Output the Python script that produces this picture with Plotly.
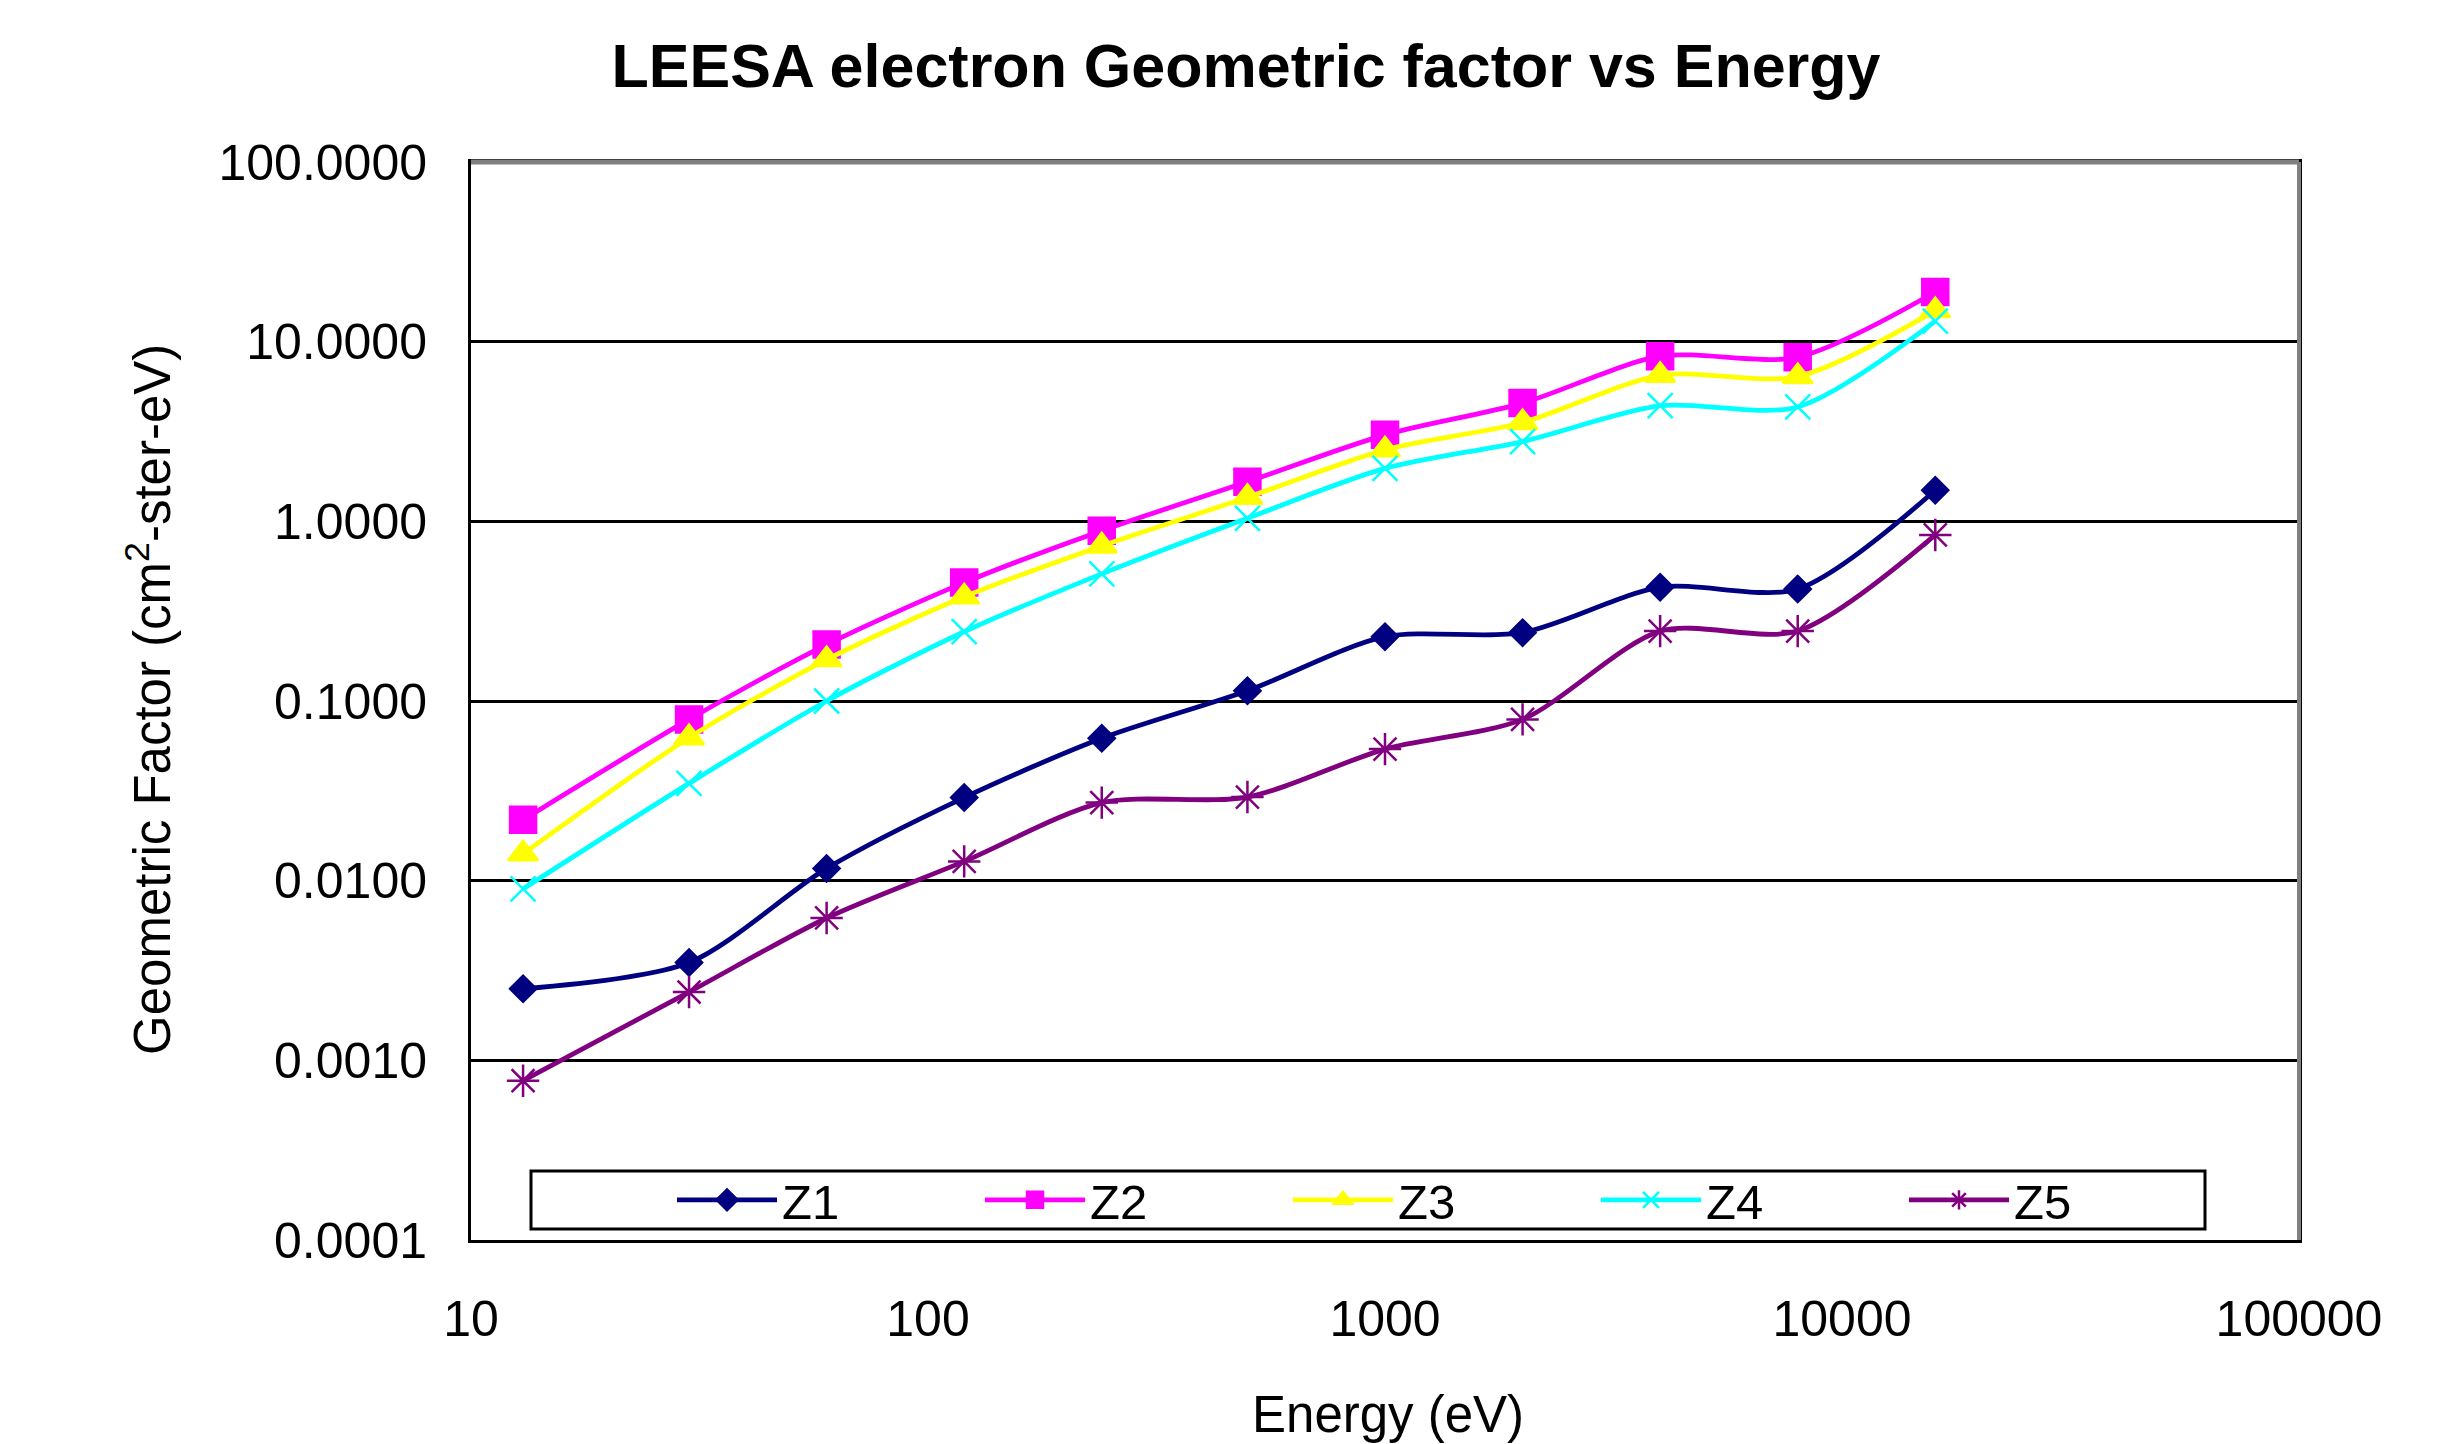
import plotly.graph_objects as go

energy = [13, 30, 60, 120, 240, 500, 1000, 2000, 4000, 8000, 16000]
z1 = [0.0025, 0.0035, 0.0117, 0.029, 0.062, 0.114, 0.228, 0.240, 0.43, 0.42, 1.49]
z2 = [0.0218, 0.079, 0.206, 0.456, 0.887, 1.66, 3.03, 4.55, 8.3, 8.2, 18.9]
z3 = [0.0141, 0.0625, 0.17, 0.38, 0.73, 1.36, 2.5, 3.55, 6.5, 6.4, 14.9]
z4 = [0.0090, 0.0348, 0.100, 0.243, 0.51, 1.04, 1.97, 2.78, 4.4, 4.33, 13.0]
z5 = [0.00077, 0.0024, 0.0062, 0.0128, 0.0272, 0.0292, 0.054, 0.079, 0.245, 0.245, 0.84]

series_names = ["Z1", "Z2", "Z3", "Z4", "Z5"]
series_values = [z1, z2, z3, z4, z5]
colors = ["#000080", "#FF00FF", "#FFFF00", "#00FFFF", "#800080"]
symbols = ["diamond", "square", "triangle-up", "x-thin-open", "asterisk-open"]
sizes = [20, 26, 26, 25, 27]

y_tickvals = [0.0001, 0.001, 0.01, 0.1, 1, 10, 100]
y_ticktext = ["0.0001", "0.0010", "0.0100", "0.1000", "1.0000", "10.0000", "100.0000"]
x_tickvals = [10, 100, 1000, 10000, 100000]
x_ticktext = ["10", "100", "1000", "10000", "100000"]

FONT = "Liberation Sans, Arial, sans-serif"

fig = go.Figure()
for name, vals, c, s, sz in zip(series_names, series_values, colors, symbols, sizes):
    fig.add_trace(go.Scatter(
        x=energy, y=vals, name=name, mode="lines+markers",
        line=dict(color=c, width=4.8, shape="spline", smoothing=0.8),
        marker=dict(symbol=s, size=sz, color=c, line=dict(color=c, width=2.5)),
    ))

L, R, T, B = 471, 165, 162, 204
W, H = 2464, 1444
pw, ph = W - L - R, H - T - B

def px(x):
    return (x - L) / pw

def py(y):
    return (H - B - y) / ph

fig.update_layout(
    width=W, height=H,
    margin=dict(l=L, r=R, t=T, b=B, pad=0),
    paper_bgcolor="white", plot_bgcolor="white",
    font=dict(family=FONT, size=50, color="black"),
    title=dict(text="<b>LEESA electron Geometric factor vs Energy</b>",
               font=dict(family=FONT, size=61, color="black"),
               x=0.5057, xanchor="center", xref="container",
               y=1 - 66 / H, yanchor="middle", yref="container"),
    showlegend=True,
    legend=dict(orientation="h", x=px(672), xanchor="left",
                y=py(1200), yanchor="middle",
                bgcolor="rgba(0,0,0,0)", borderwidth=0,
                entrywidth=193, entrywidthmode="pixels",
                itemwidth=100, font=dict(family=FONT, size=49, color="black"),
                traceorder="normal", itemclick=False),
    xaxis=dict(type="log", range=[1, 5], tickvals=x_tickvals, ticktext=x_ticktext,
               showgrid=False, zeroline=False, showline=True, linecolor="black",
               linewidth=3, mirror=True, ticks="", ticklabelstandoff=33,
               tickfont=dict(family=FONT, size=50, color="black")),
    yaxis=dict(type="log", range=[-4, 2], tickvals=y_tickvals, ticktext=y_ticktext,
               showgrid=True, gridcolor="black", gridwidth=2.5, zeroline=False,
               showline=True, linecolor="black", linewidth=3, mirror=True,
               ticks="", ticklabelstandoff=31,
               tickfont=dict(family=FONT, size=50, color="black")),
    shapes=[
        dict(type="rect", xref="paper", yref="paper",
             x0=px(531), x1=px(2205), y0=py(1229), y1=py(1171),
             line=dict(color="black", width=3), fillcolor="rgba(0,0,0,0)", layer="above"),
        dict(type="line", xref="paper", yref="paper", x0=0, x1=1, y0=1, y1=1,
             line=dict(color="#808080", width=5), layer="above"),
        dict(type="line", xref="paper", yref="paper", x0=1, x1=1, y0=0, y1=1,
             line=dict(color="#808080", width=4), layer="above"),
    ],
    annotations=[
        dict(text="Energy (eV)", xref="paper", yref="paper", x=px(1388), y=py(1414),
             xanchor="center", yanchor="middle", showarrow=False,
             font=dict(family=FONT, size=51, color="black")),
        dict(text="Geometric Factor (cm<sup>2</sup>-ster-eV)", xref="paper", yref="paper",
             x=px(149), y=py(700), xanchor="center", yanchor="middle", showarrow=False,
             textangle=-90, font=dict(family=FONT, size=51, color="black")),
    ],
)

fig.write_html("out.html")
